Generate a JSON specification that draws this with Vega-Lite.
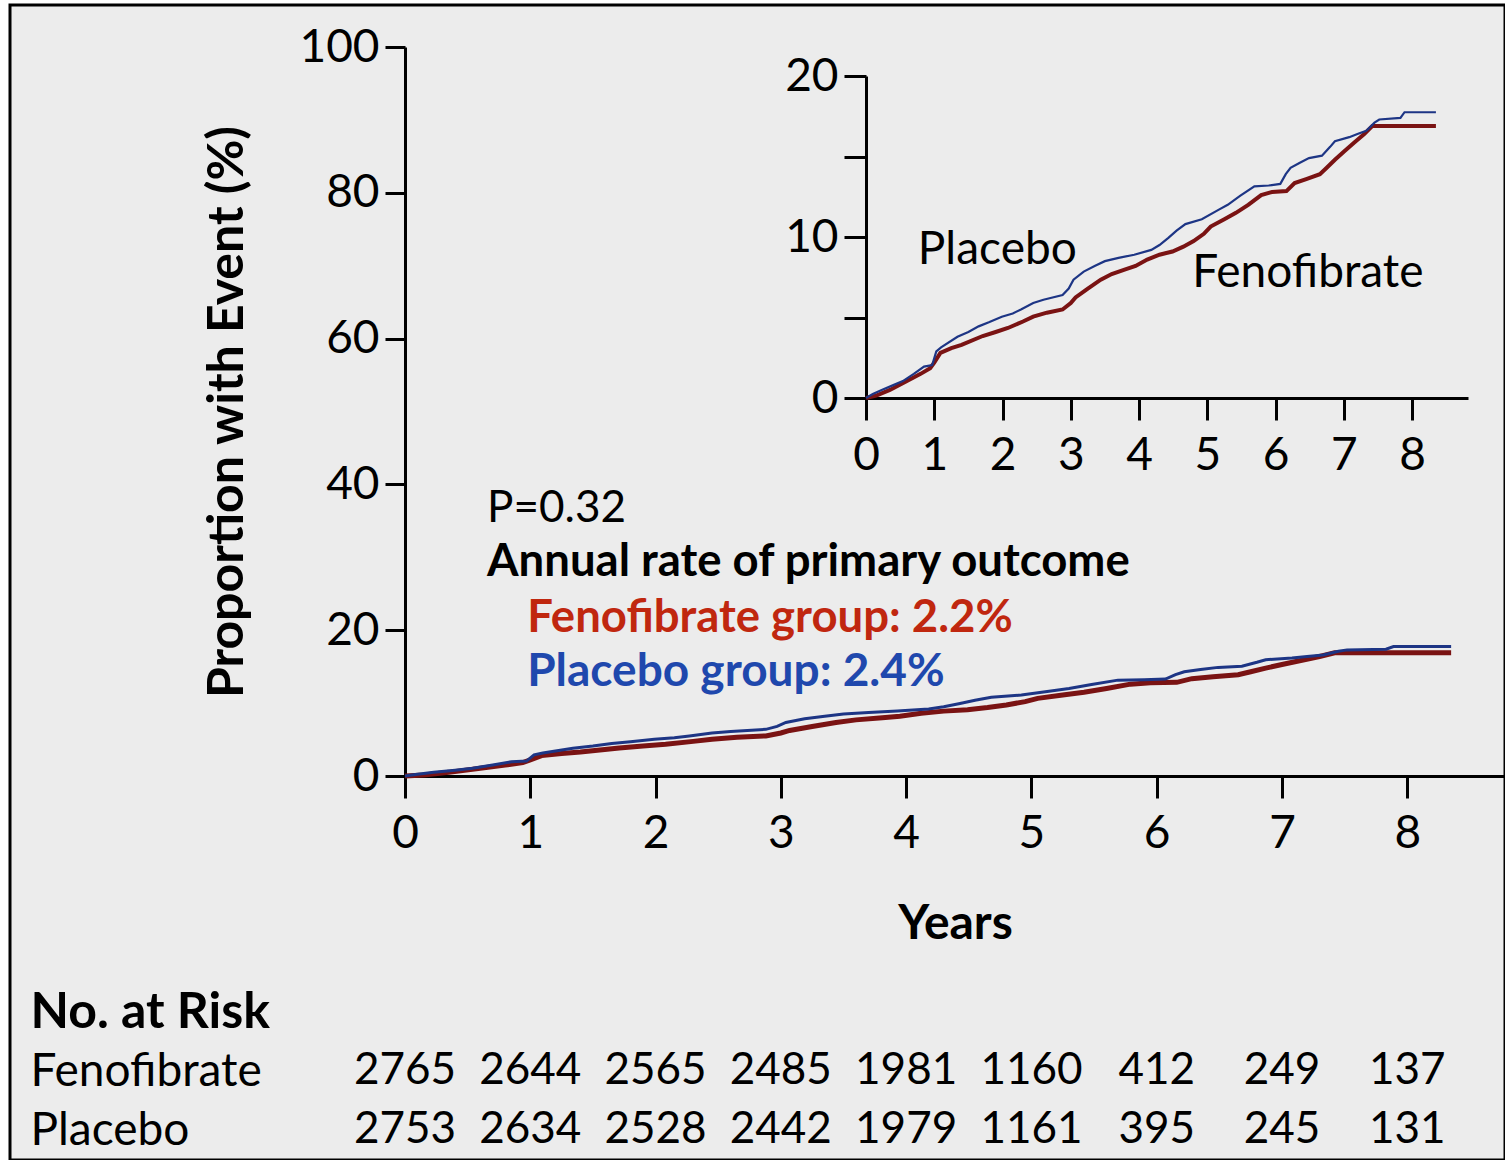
{
  "$schema": "https://vega.github.io/schema/vega-lite/v6.json",
  "width": 1495,
  "height": 1155,
  "autosize": {"type": "none"},
  "padding": {"left": 10, "top": 5, "right": 0, "bottom": 0},
  "background": "#ffffff",
  "view": {"fill": "#ececec", "stroke": "#000000", "strokeWidth": 3},
  "config": {
    "font": "Lato, 'Liberation Sans', sans-serif",
    "axis": {
      "grid": false,
      "domainColor": "#000000",
      "tickColor": "#000000",
      "labelColor": "#000000",
      "titleColor": "#000000",
      "labelFont": "Lato, 'Liberation Sans', sans-serif",
      "titleFont": "Lato, 'Liberation Sans', sans-serif",
      "labelFontSize": 46,
      "labelFontWeight": "normal",
      "labelLimit": 0,
      "labelFlush": false,
      "labelOverlap": false,
      "domainWidth": 3,
      "tickWidth": 3
    },
    "text": {"font": "Lato, 'Liberation Sans', sans-serif", "fontSize": 46}
  },
  "datasets": {
    "km": [
      {"series": "Placebo", "t": 0, "p": 0},
      {"series": "Placebo", "t": 0.1, "p": 0.25},
      {"series": "Placebo", "t": 0.23, "p": 0.5},
      {"series": "Placebo", "t": 0.4, "p": 0.8},
      {"series": "Placebo", "t": 0.54, "p": 1.05},
      {"series": "Placebo", "t": 0.7, "p": 1.5},
      {"series": "Placebo", "t": 0.85, "p": 1.95},
      {"series": "Placebo", "t": 0.97, "p": 2.05},
      {"series": "Placebo", "t": 1.03, "p": 2.9},
      {"series": "Placebo", "t": 1.1, "p": 3.15},
      {"series": "Placebo", "t": 1.34, "p": 3.8},
      {"series": "Placebo", "t": 1.5, "p": 4.1},
      {"series": "Placebo", "t": 1.65, "p": 4.45},
      {"series": "Placebo", "t": 1.8, "p": 4.7},
      {"series": "Placebo", "t": 1.99, "p": 5.05},
      {"series": "Placebo", "t": 2.15, "p": 5.25},
      {"series": "Placebo", "t": 2.27, "p": 5.5},
      {"series": "Placebo", "t": 2.45, "p": 5.9},
      {"series": "Placebo", "t": 2.6, "p": 6.1},
      {"series": "Placebo", "t": 2.88, "p": 6.4},
      {"series": "Placebo", "t": 2.97, "p": 6.8},
      {"series": "Placebo", "t": 3.04, "p": 7.35},
      {"series": "Placebo", "t": 3.19, "p": 7.85},
      {"series": "Placebo", "t": 3.35, "p": 8.2},
      {"series": "Placebo", "t": 3.5, "p": 8.5},
      {"series": "Placebo", "t": 3.7, "p": 8.7},
      {"series": "Placebo", "t": 3.93, "p": 8.9},
      {"series": "Placebo", "t": 4.18, "p": 9.2},
      {"series": "Placebo", "t": 4.3, "p": 9.5},
      {"series": "Placebo", "t": 4.43, "p": 9.95},
      {"series": "Placebo", "t": 4.55, "p": 10.4},
      {"series": "Placebo", "t": 4.68, "p": 10.8},
      {"series": "Placebo", "t": 4.92, "p": 11.1},
      {"series": "Placebo", "t": 5.17, "p": 11.7},
      {"series": "Placebo", "t": 5.3, "p": 12.0},
      {"series": "Placebo", "t": 5.48, "p": 12.55},
      {"series": "Placebo", "t": 5.69, "p": 13.15},
      {"series": "Placebo", "t": 5.9, "p": 13.2},
      {"series": "Placebo", "t": 6.07, "p": 13.3},
      {"series": "Placebo", "t": 6.15, "p": 13.9},
      {"series": "Placebo", "t": 6.22, "p": 14.3},
      {"series": "Placebo", "t": 6.35, "p": 14.6},
      {"series": "Placebo", "t": 6.49, "p": 14.9},
      {"series": "Placebo", "t": 6.68, "p": 15.05},
      {"series": "Placebo", "t": 6.8, "p": 15.6},
      {"series": "Placebo", "t": 6.87, "p": 15.95},
      {"series": "Placebo", "t": 7.08, "p": 16.2},
      {"series": "Placebo", "t": 7.2, "p": 16.4},
      {"series": "Placebo", "t": 7.33, "p": 16.6},
      {"series": "Placebo", "t": 7.45, "p": 17.1},
      {"series": "Placebo", "t": 7.52, "p": 17.3},
      {"series": "Placebo", "t": 7.83, "p": 17.4},
      {"series": "Placebo", "t": 7.89, "p": 17.75},
      {"series": "Placebo", "t": 8.35, "p": 17.75},
      {"series": "Fenofibrate", "t": 0, "p": 0},
      {"series": "Fenofibrate", "t": 0.15, "p": 0.15},
      {"series": "Fenofibrate", "t": 0.35, "p": 0.5},
      {"series": "Fenofibrate", "t": 0.6, "p": 1.05},
      {"series": "Fenofibrate", "t": 0.8, "p": 1.5},
      {"series": "Fenofibrate", "t": 0.94, "p": 1.85},
      {"series": "Fenofibrate", "t": 1.0, "p": 2.2},
      {"series": "Fenofibrate", "t": 1.09, "p": 2.8},
      {"series": "Fenofibrate", "t": 1.25, "p": 3.1},
      {"series": "Fenofibrate", "t": 1.4, "p": 3.3},
      {"series": "Fenofibrate", "t": 1.71, "p": 3.85},
      {"series": "Fenofibrate", "t": 1.9, "p": 4.1},
      {"series": "Fenofibrate", "t": 2.08, "p": 4.35},
      {"series": "Fenofibrate", "t": 2.3, "p": 4.75},
      {"series": "Fenofibrate", "t": 2.45, "p": 5.05},
      {"series": "Fenofibrate", "t": 2.65, "p": 5.3},
      {"series": "Fenofibrate", "t": 2.88, "p": 5.5},
      {"series": "Fenofibrate", "t": 3.0, "p": 5.9},
      {"series": "Fenofibrate", "t": 3.07, "p": 6.25},
      {"series": "Fenofibrate", "t": 3.25, "p": 6.8},
      {"series": "Fenofibrate", "t": 3.44, "p": 7.35},
      {"series": "Fenofibrate", "t": 3.6, "p": 7.7},
      {"series": "Fenofibrate", "t": 3.81, "p": 8.0},
      {"series": "Fenofibrate", "t": 3.95, "p": 8.2},
      {"series": "Fenofibrate", "t": 4.12, "p": 8.6},
      {"series": "Fenofibrate", "t": 4.3, "p": 8.9},
      {"series": "Fenofibrate", "t": 4.49, "p": 9.1},
      {"series": "Fenofibrate", "t": 4.65, "p": 9.4},
      {"series": "Fenofibrate", "t": 4.8, "p": 9.75},
      {"series": "Fenofibrate", "t": 4.95, "p": 10.2},
      {"series": "Fenofibrate", "t": 5.05, "p": 10.65},
      {"series": "Fenofibrate", "t": 5.25, "p": 11.1},
      {"series": "Fenofibrate", "t": 5.42, "p": 11.5},
      {"series": "Fenofibrate", "t": 5.6, "p": 12.0},
      {"series": "Fenofibrate", "t": 5.79, "p": 12.6},
      {"series": "Fenofibrate", "t": 5.95, "p": 12.8},
      {"series": "Fenofibrate", "t": 6.16, "p": 12.85},
      {"series": "Fenofibrate", "t": 6.28, "p": 13.35},
      {"series": "Fenofibrate", "t": 6.45, "p": 13.6},
      {"series": "Fenofibrate", "t": 6.65, "p": 13.9},
      {"series": "Fenofibrate", "t": 6.75, "p": 14.3},
      {"series": "Fenofibrate", "t": 6.87, "p": 14.8},
      {"series": "Fenofibrate", "t": 7.0, "p": 15.3},
      {"series": "Fenofibrate", "t": 7.15, "p": 15.85},
      {"series": "Fenofibrate", "t": 7.3, "p": 16.4},
      {"series": "Fenofibrate", "t": 7.42, "p": 16.9},
      {"series": "Fenofibrate", "t": 7.6, "p": 16.9},
      {"series": "Fenofibrate", "t": 8.35, "p": 16.9}
    ],
    "risk": [
      {"group": "Fenofibrate", "year": 0, "n": 2765},
      {"group": "Fenofibrate", "year": 1, "n": 2644},
      {"group": "Fenofibrate", "year": 2, "n": 2565},
      {"group": "Fenofibrate", "year": 3, "n": 2485},
      {"group": "Fenofibrate", "year": 4, "n": 1981},
      {"group": "Fenofibrate", "year": 5, "n": 1160},
      {"group": "Fenofibrate", "year": 6, "n": 412},
      {"group": "Fenofibrate", "year": 7, "n": 249},
      {"group": "Fenofibrate", "year": 8, "n": 137},
      {"group": "Placebo", "year": 0, "n": 2753},
      {"group": "Placebo", "year": 1, "n": 2634},
      {"group": "Placebo", "year": 2, "n": 2528},
      {"group": "Placebo", "year": 3, "n": 2442},
      {"group": "Placebo", "year": 4, "n": 1979},
      {"group": "Placebo", "year": 5, "n": 1161},
      {"group": "Placebo", "year": 6, "n": 395},
      {"group": "Placebo", "year": 7, "n": 245},
      {"group": "Placebo", "year": 8, "n": 131}
    ]
  },
  "layer": [
    {
      "encoding": {
        "x": {
          "field": "t", "type": "quantitative",
          "scale": {"domain": [0, 8.78], "range": [395, 1495], "nice": false, "zero": false},
          "axis": {
            "orient": "bottom", "offset": -384, "values": [0, 1, 2, 3, 4, 5, 6, 7, 8], "format": "d",
            "tickSize": 22, "labelPadding": 13,
            "title": "Years", "titleFontSize": 48, "titleFontWeight": "bold", "titlePadding": 44
          }
        },
        "y": {
          "field": "p", "type": "quantitative",
          "scale": {"domain": [0, 100], "range": [771, 42], "nice": false, "zero": false},
          "axis": {
            "orient": "left", "offset": -395, "values": [0, 20, 40, 60, 80, 100], "format": "d",
            "tickSize": 20, "labelPadding": 6,
            "title": "Proportion with Event (%)", "titleFontSize": 50, "titleFontWeight": "bold", "titlePadding": 46
          }
        }
      },
      "layer": [
        {
          "data": {"name": "km"},
          "transform": [{"filter": "datum.series === 'Fenofibrate'"}],
          "mark": {"type": "line", "color": "#7a1313", "strokeWidth": 5}
        },
        {
          "data": {"name": "km"},
          "transform": [{"filter": "datum.series === 'Placebo'"}],
          "mark": {"type": "line", "color": "#1d3585", "strokeWidth": 3}
        },
        {
          "data": {"values": [{"t": 0.655, "p": 36.6, "label": "P=0.32"}]},
          "mark": {"type": "text", "align": "left", "baseline": "middle", "fontSize": 44, "color": "#000000"},
          "encoding": {"text": {"field": "label"}}
        },
        {
          "data": {"values": [{"t": 0.655, "p": 29.3, "label": "Annual rate of primary outcome"}]},
          "mark": {"type": "text", "align": "left", "baseline": "middle", "fontSize": 45.5, "fontWeight": "bold", "color": "#000000"},
          "encoding": {"text": {"field": "label"}}
        },
        {
          "data": {"values": [{"t": 0.975, "p": 21.7, "label": "Fenofibrate group: 2.2%"}]},
          "mark": {"type": "text", "align": "left", "baseline": "middle", "fontSize": 45.5, "fontWeight": "bold", "color": "#c0270f"},
          "encoding": {"text": {"field": "label"}}
        },
        {
          "data": {"values": [{"t": 0.975, "p": 14.3, "label": "Placebo group: 2.4%"}]},
          "mark": {"type": "text", "align": "left", "baseline": "middle", "fontSize": 46, "fontWeight": "bold", "color": "#1f48ad"},
          "encoding": {"text": {"field": "label"}}
        }
      ]
    },
    {
      "encoding": {
        "x": {
          "field": "t", "type": "quantitative",
          "scale": {"domain": [0, 8.82], "range": [856, 1458], "nice": false, "zero": false},
          "axis": {
            "orient": "bottom", "offset": -762, "values": [0, 1, 2, 3, 4, 5, 6, 7, 8], "format": "d",
            "tickSize": 22, "labelPadding": 13, "title": null
          }
        },
        "y": {
          "field": "p", "type": "quantitative",
          "scale": {"domain": [0, 20], "range": [393, 71], "nice": false, "zero": false},
          "axis": {
            "orient": "left", "offset": -856, "values": [0, 5, 10, 15, 20], "format": "d",
            "labelExpr": "datum.value % 10 === 0 ? datum.label : ''",
            "tickSize": 22, "labelPadding": 6, "title": null
          }
        }
      },
      "layer": [
        {
          "data": {"name": "km"},
          "transform": [{"filter": "datum.series === 'Fenofibrate'"}],
          "mark": {"type": "line", "color": "#7a1313", "strokeWidth": 4}
        },
        {
          "data": {"name": "km"},
          "transform": [{"filter": "datum.series === 'Placebo'"}],
          "mark": {"type": "line", "color": "#1d3585", "strokeWidth": 2.2}
        },
        {
          "data": {"values": [{"t": 0.76, "p": 9.2, "label": "Placebo"}, {"t": 4.78, "p": 7.75, "label": "Fenofibrate"}]},
          "mark": {"type": "text", "align": "left", "baseline": "middle", "fontSize": 46, "color": "#000000"},
          "encoding": {"text": {"field": "label"}}
        }
      ]
    },
    {
      "data": {"name": "risk"},
      "mark": {"type": "text", "align": "center", "baseline": "middle", "fontSize": 44, "color": "#000000"},
      "encoding": {
        "x": {
          "field": "year", "type": "quantitative",
          "scale": {"domain": [0, 8.78], "range": [395, 1495], "nice": false, "zero": false},
          "axis": null
        },
        "y": {
          "field": "group", "type": "nominal",
          "scale": {"type": "point", "domain": ["No. at Risk", "Fenofibrate", "Placebo"], "range": [1007, 1125], "padding": 0},
          "axis": {
            "orient": "left", "offset": -20, "domain": false, "ticks": false, "tickSize": 0,
            "labelAlign": "left", "labelBaseline": "middle", "labelPadding": 0,
            "labelFontSize": {"condition": {"test": "datum.value === 'No. at Risk'", "value": 50}, "value": 46},
            "labelFontWeight": {"condition": {"test": "datum.value === 'No. at Risk'", "value": "bold"}, "value": "normal"},
            "title": null
          }
        },
        "text": {"field": "n", "type": "quantitative", "format": "d"}
      }
    }
  ],
  "resolve": {
    "scale": {"x": "independent", "y": "independent"},
    "axis": {"x": "independent", "y": "independent"}
  }
}
